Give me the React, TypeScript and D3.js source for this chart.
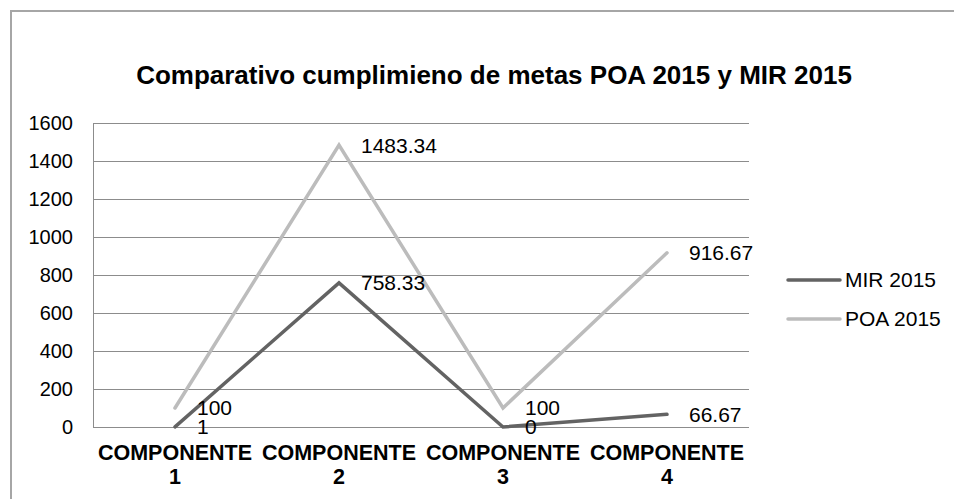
import React, { useEffect, useRef } from 'react';
import * as d3 from 'd3';

const categories = ['COMPONENTE 1', 'COMPONENTE 2', 'COMPONENTE 3', 'COMPONENTE 4'];
const mirValues = [1, 758.33, 0, 66.67];
const poaValues = [100, 1483.34, 100, 916.67];
const mirLabels = ['1', '758.33', '0', '66.67'];
const poaLabels = ['100', '1483.34', '100', '916.67'];
const yTicks = [0, 200, 400, 600, 800, 1000, 1200, 1400, 1600];
const seriesNames = ['MIR 2015', 'POA 2015'];

const width = 954;
const height = 499;
const font = '"Liberation Sans", Arial, sans-serif';

export default function App() {
  const svgRef = useRef<SVGSVGElement>(null);

  useEffect(() => {
    if (!svgRef.current) return;
    const svg = d3.select(svgRef.current);
    svg.selectAll('*').remove();

    const plot = { left: 93, right: 749, top: 123, bottom: 427 };

    // chart frame (only top and left edges are visible)
    svg.append('path')
      .attr('d', `M11,${height} L11,11 L${width},11`)
      .attr('fill', 'none')
      .attr('stroke', '#a6a6a6')
      .attr('stroke-width', 2);

    svg.append('text')
      .attr('x', 494)
      .attr('y', 84)
      .attr('text-anchor', 'middle')
      .style('font-family', font)
      .style('font-weight', 'bold')
      .style('font-size', '26px')
      .text('Comparativo cumplimieno de metas POA 2015 y MIR 2015');

    const x = d3.scaleBand()
      .domain(categories)
      .range([plot.left, plot.right]);

    const y = d3.scaleLinear()
      .domain([0, 1600])
      .range([plot.bottom, plot.top]);

    // gridlines
    svg.append('g')
      .selectAll('line')
      .data(yTicks)
      .enter()
      .append('line')
      .attr('x1', plot.left)
      .attr('x2', plot.right)
      .attr('y1', d => Math.round(y(d)) + 0.5)
      .attr('y2', d => Math.round(y(d)) + 0.5)
      .attr('stroke', '#8c8c8c')
      .attr('stroke-width', 1);

    svg.append('line')
      .attr('x1', plot.left + 0.5)
      .attr('x2', plot.left + 0.5)
      .attr('y1', plot.top)
      .attr('y2', plot.bottom + 1)
      .attr('stroke', '#8c8c8c');

    // y tick labels
    svg.append('g')
      .selectAll('text')
      .data(yTicks)
      .enter()
      .append('text')
      .attr('x', 73)
      .attr('y', d => y(d))
      .attr('dy', '0.35em')
      .attr('text-anchor', 'end')
      .style('font-family', font)
      .style('font-size', '20px')
      .text(d => String(d));

    // category labels, two lines each
    const cat = svg.append('g')
      .selectAll('text')
      .data(categories)
      .enter()
      .append('text')
      .attr('text-anchor', 'middle')
      .style('font-family', font)
      .style('font-weight', 'bold')
      .style('font-size', '21.5px');
    cat.append('tspan')
      .attr('x', d => (x(d) || 0) + x.bandwidth() / 2)
      .attr('y', 460)
      .text(d => d.split(' ')[0]);
    cat.append('tspan')
      .attr('x', d => (x(d) || 0) + x.bandwidth() / 2)
      .attr('y', 484)
      .text(d => d.split(' ')[1]);

    const cx = (i: number) => (x(categories[i]) || 0) + x.bandwidth() / 2;
    const line = d3.line<number>()
      .x((d, i) => cx(i))
      .y(d => y(d));

    const series = [
      { name: seriesNames[1], values: poaValues, labels: poaLabels, color: '#bcbcbc' },
      { name: seriesNames[0], values: mirValues, labels: mirLabels, color: '#636363' },
    ];

    series.forEach(s => {
      svg.append('path')
        .datum(s.values)
        .attr('d', line)
        .attr('fill', 'none')
        .attr('stroke', s.color)
        .attr('stroke-width', 3.5)
        .attr('stroke-linejoin', 'miter')
        .attr('stroke-linecap', 'round');
    });

    series.forEach(s => {
      svg.append('g')
        .selectAll('text')
        .data(s.values)
        .enter()
        .append('text')
        .attr('x', (d, i) => cx(i) + 22)
        .attr('y', d => y(d))
        .attr('dy', '0.35em')
        .style('font-family', font)
        .style('font-size', '21px')
        .text((d, i) => s.labels[i]);
    });

    // legend
    const legend = [
      { name: seriesNames[0], color: '#636363' },
      { name: seriesNames[1], color: '#bcbcbc' },
    ];
    const lg = svg.append('g')
      .selectAll('g')
      .data(legend)
      .enter()
      .append('g')
      .attr('transform', (d, i) => `translate(0,${280 + i * 39})`);
    lg.append('line')
      .attr('x1', 788)
      .attr('x2', 840)
      .attr('stroke', d => d.color)
      .attr('stroke-width', 3.5)
      .attr('stroke-linecap', 'round');
    lg.append('text')
      .attr('x', 845)
      .attr('dy', '0.35em')
      .style('font-family', font)
      .style('font-size', '21px')
      .text(d => d.name);
  }, []);

  return (
    <svg
      ref={svgRef}
      width={width}
      height={height}
      style={{ position: 'absolute', left: 0, top: 0, background: '#fff' }}
    />
  );
}
